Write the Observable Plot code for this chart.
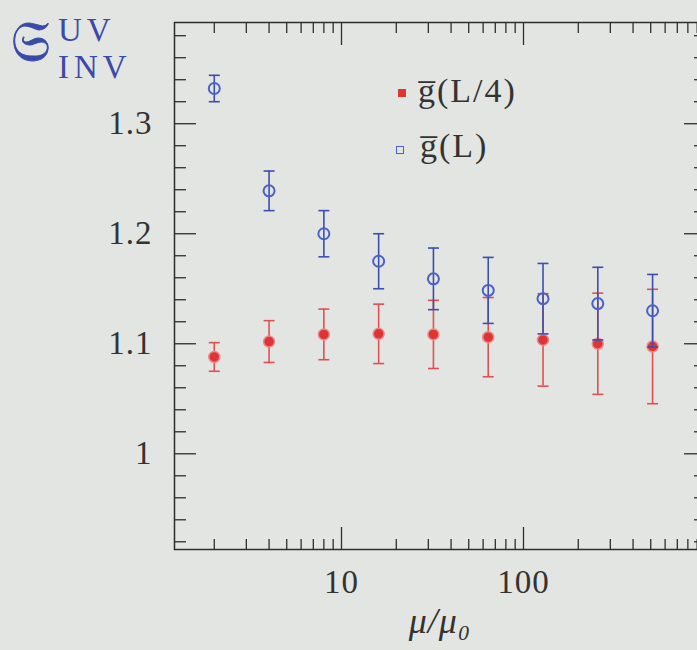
<!DOCTYPE html>
<html><head><meta charset="utf-8">
<script src="https://cdn.jsdelivr.net/npm/d3@7"></script>
<script src="https://cdn.jsdelivr.net/npm/@observablehq/plot@0.6"></script>
<style>
html,body{margin:0;padding:0;background:#e3e5e2;overflow:hidden;}
#wrap{position:relative;width:697px;height:650px;overflow:hidden;}
#chart svg{display:block;}
#chart svg text{letter-spacing:1px;}
.ttl{position:absolute;color:#3a4aa8;font-family:"Liberation Serif","DejaVu Serif",serif;line-height:0.8;white-space:nowrap;}
.leg{position:absolute;font-family:"Liberation Serif","DejaVu Serif",serif;font-size:34px;color:#333;line-height:0.8;white-space:nowrap;letter-spacing:2px;}
.sw{position:absolute;}
</style></head><body>
<div id="wrap">
  <div id="chart"></div>
  <div class="ttl" style="left:11px;top:14px;font-size:56px;line-height:1;-webkit-text-stroke:0.8px #3a4aa8;">𝔖</div>
  <div class="ttl" style="left:58px;top:17px;font-size:33px;letter-spacing:5px;">UV</div>
  <div class="ttl" style="left:58px;top:54px;font-size:33px;letter-spacing:5px;">INV</div>
  <div class="sw" style="left:398px;top:89px;width:8px;height:8px;background:#e03535;"></div>
  <div class="leg" style="left:418px;top:77px;">g̅(L/4)</div>
  <div class="sw" style="left:396px;top:146px;width:6px;height:6px;border:1.5px solid #4a62c8;"></div>
  <div class="leg" style="left:420px;top:132px;">g̅(L)</div>
</div>
<script>
const mu = [2, 4, 8, 16, 32, 64, 128, 256, 512];
const gL4 = [1.088, 1.102, 1.1085, 1.109, 1.1085, 1.106, 1.1035, 1.100, 1.0975];
const gL4err = [0.013, 0.019, 0.023, 0.027, 0.031, 0.036, 0.042, 0.046, 0.052];
const gL = [1.332, 1.239, 1.200, 1.175, 1.159, 1.1485, 1.141, 1.1365, 1.130];
const gLerr = [0.012, 0.018, 0.021, 0.025, 0.028, 0.030, 0.032, 0.033, 0.033];
const yMajor = [1, 1.1, 1.2, 1.3];
const yMinor = [0.92, 0.94, 0.96, 0.98, 1.02, 1.04, 1.06, 1.08, 1.12, 1.14, 1.16, 1.18, 1.22, 1.24, 1.26, 1.28, 1.32, 1.34, 1.36, 1.38];
const xMajor = [10, 100, 1000];
const xMinor = [2, 3, 4, 5, 6, 7, 8, 9, 20, 30, 40, 50, 60, 70, 80, 90, 200, 300, 400, 500, 600, 700, 800, 900];
const xLabels = [10, 100];

const red = mu.map((x, i) => ({x, y: gL4[i], lo: gL4[i] - gL4err[i], hi: gL4[i] + gL4err[i]}));
const blue = mu.map((x, i) => ({x, y: gL[i], lo: gL[i] - gLerr[i], hi: gL[i] + gLerr[i]}));

const cap = {draw(ctx, size) { const r = Math.sqrt(size / Math.PI); ctx.moveTo(-r, 0); ctx.lineTo(r, 0); }};
const axisCol = "#2e2e2e";
const tk = (fn, data, o) => fn(data, {stroke: axisCol, fill: "none", label: null, strokeWidth: 1.3, ...o});

const plot = Plot.plot({
  width: 697, height: 650,
  marginLeft: 174, marginRight: -8, marginTop: 22, marginBottom: 101,
  style: {background: "transparent", fontFamily: "Liberation Serif, DejaVu Serif, serif", color: "#333", overflow: "visible"},
  x: {type: "log", domain: [1.209, 1000]},
  y: {domain: [0.913, 1.392]},
  marks: [
    Plot.frame({stroke: axisCol, strokeWidth: 1.5}),
    tk(Plot.axisX, xMinor, {anchor: "bottom", tickSize: -10}),
    tk(Plot.axisX, xMajor, {anchor: "bottom", tickSize: -22}),
    tk(Plot.axisX, xMinor, {anchor: "top", tickSize: -10}),
    tk(Plot.axisX, xMajor, {anchor: "top", tickSize: -22}),
    tk(Plot.axisY, yMinor, {anchor: "left", tickSize: -12}),
    tk(Plot.axisY, yMajor, {anchor: "left", tickSize: -22}),
    tk(Plot.axisY, yMinor, {anchor: "right", tickSize: -12}),
    tk(Plot.axisY, yMajor, {anchor: "right", tickSize: -22}),
    Plot.axisX(xLabels, {anchor: "bottom", tickSize: 0, tickPadding: 20, fontSize: 33, fill: "#333", tickFormat: d => String(d), label: null}),
    Plot.axisX([], {anchor: "bottom", tickSize: 0, fontSize: 36, fill: "#333", fontStyle: "italic", label: "μ/μ₀", labelAnchor: "center", labelOffset: 83, labelArrow: "none"}),
    Plot.axisY(yMajor, {anchor: "left", tickSize: 0, tickPadding: 22, fontSize: 33, fill: "#333", tickFormat: d => String(d), label: null}),
    // red series
    Plot.ruleX(red, {x: "x", y1: "lo", y2: "hi", stroke: "#e05050", strokeWidth: 1.6}),
    Plot.dot(red, {x: "x", y: "lo", symbol: cap, r: 5.5, stroke: "#e05050", strokeWidth: 1.6}),
    Plot.dot(red, {x: "x", y: "hi", symbol: cap, r: 5.5, stroke: "#e05050", strokeWidth: 1.6}),
    Plot.dot(red, {x: "x", y: "y", r: 5.5, fill: "#dd3535", stroke: "#ec8a8a", strokeWidth: 1.5}),
    // blue series
    Plot.ruleX(blue, {x: "x", y1: "lo", y2: "hi", stroke: "#3a4fb0", strokeWidth: 1.6}),
    Plot.dot(blue, {x: "x", y: "lo", symbol: cap, r: 5.5, stroke: "#3a4fb0", strokeWidth: 1.6}),
    Plot.dot(blue, {x: "x", y: "hi", symbol: cap, r: 5.5, stroke: "#3a4fb0", strokeWidth: 1.6}),
    Plot.dot(blue, {x: "x", y: "y", r: 5.5, fill: "none", stroke: "#4a62c8", strokeWidth: 2})
  ]
});
document.getElementById("chart").appendChild(plot);
</script>
</body></html>
